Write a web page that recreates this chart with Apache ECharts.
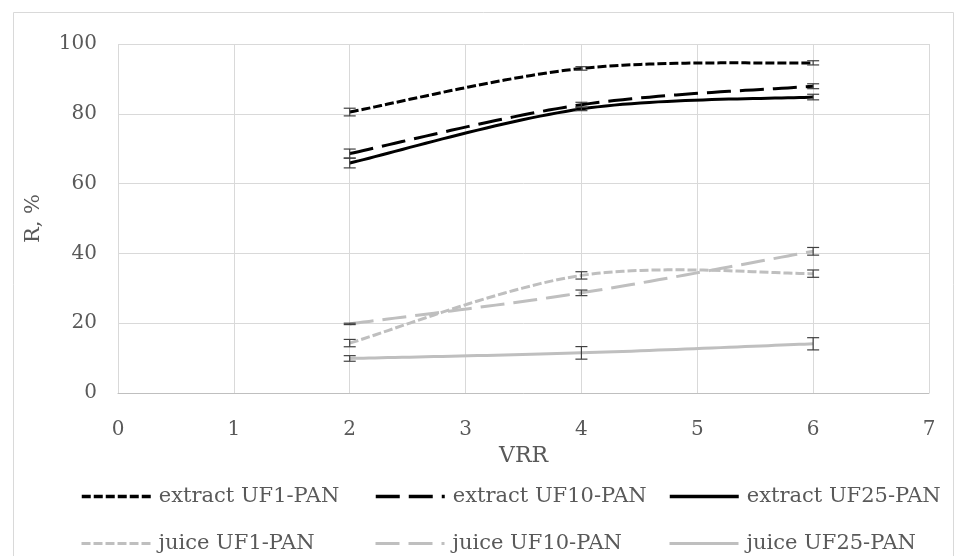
<!DOCTYPE html>
<html>
<head>
<meta charset="utf-8">
<script src="https://cdn.jsdelivr.net/npm/echarts@6/dist/echarts.min.js"></script>
<style>
html,body{margin:0;padding:0;background:#fff;}
#chart{width:959px;height:556px;}
</style>
</head>
<body>
<div id="chart"></div>
<script>
// ---- data ----
const vrr = [2, 4, 6];
const xTicks = [0, 1, 2, 3, 4, 5, 6, 7];
const yTicks = [0, 20, 40, 60, 80, 100];
const seriesNames = ['extract UF1-PAN', 'extract UF10-PAN', 'extract UF25-PAN',
                     'juice UF1-PAN', 'juice UF10-PAN', 'juice UF25-PAN'];
const extractUF1 = [80.5, 93.0, 94.6];
const extractUF10 = [68.6, 82.6, 87.9];
const extractUF25 = [65.9, 81.4, 84.8];
const juiceUF1 = [14.3, 33.7, 34.2];
const juiceUF10 = [19.8, 28.7, 40.6];
const juiceUF25 = [9.9, 11.5, 14.1];
const errExtractUF1 = [1.1, 0.5, 0.6];
const errExtractUF10 = [1.3, 0.7, 0.7];
const errExtractUF25 = [1.4, 0.5, 0.8];
const errJuiceUF1 = [1.05, 1.05, 1.05];
const errJuiceUF10 = [0.2, 0.8, 1.1];
const errJuiceUF25 = [0.8, 1.8, 1.75];

const values = [extractUF1, extractUF10, extractUF25, juiceUF1, juiceUF10, juiceUF25];
const errors = [errExtractUF1, errExtractUF10, errExtractUF25, errJuiceUF1, errJuiceUF10, errJuiceUF25];

// ---- styles ----
const FONT = 'DejaVu Serif';
const TXT = '#595959';
const colors = ['#000000', '#000000', '#000000', '#bfbfbf', '#bfbfbf', '#bfbfbf'];
const dashes = [[9, 3], [24, 9], null, [9, 3], [24, 9], null];
const legendWidths = [3.5, 3.5, 3.5, 3, 3, 3];
const legendLeft = [75, 369, 663, 75, 369, 663];
const legendTop = [481, 481, 481, 528, 528, 528];

// Excel-like smoothed curve (Catmull-Rom as cubic Bezier) in pixel space
function smoothPixels(pts) {
  const out = [pts[0]];
  const n = pts.length;
  for (let i = 0; i < n - 1; i++) {
    const p0 = pts[Math.max(i - 1, 0)], p1 = pts[i], p2 = pts[i + 1], p3 = pts[Math.min(i + 2, n - 1)];
    const c1 = [p1[0] + (p2[0] - p0[0]) / 6, p1[1] + (p2[1] - p0[1]) / 6];
    const c2 = [p2[0] - (p3[0] - p1[0]) / 6, p2[1] - (p3[1] - p1[1]) / 6];
    const steps = 30;
    for (let k = 1; k <= steps; k++) {
      const t = k / steps, u = 1 - t;
      const a = u * u * u, b = 3 * u * u * t, c = 3 * u * t * t, d = t * t * t;
      out.push([a * p1[0] + b * c1[0] + c * c2[0] + d * p2[0],
                a * p1[1] + b * c1[1] + c * c2[1] + d * p2[1]]);
    }
  }
  return out;
}

// legend-only line series (no data drawn)
const legendSeries = seriesNames.map((name, i) => ({
  name: name,
  type: 'line',
  symbol: 'none',
  lineStyle: { color: colors[i], width: 3, type: dashes[i] || 'solid' },
  itemStyle: { color: colors[i] },
  data: []
}));

// curves + error bars, drawn through the axes' coordinate system
const curveSeries = seriesNames.map((name, i) => ({
  type: 'custom',
  z: 2,
  silent: true,
  clip: false,
  data: vrr.map((x, j) => [x, values[i][j], values[i][j] - errors[i][j], values[i][j] + errors[i][j]]),
  encode: { x: 0, y: [1, 2, 3] },
  renderItem: function (params, api) {
    const children = [];
    if (params.dataIndex === 0) {
      const pix = vrr.map((x, j) => api.coord([x, values[i][j]]));
      const style = { stroke: colors[i], lineWidth: 3, fill: 'none' };
      if (dashes[i]) style.lineDash = dashes[i];
      children.push({ type: 'polyline', shape: { points: smoothPixels(pix) }, style: style, z2: 1 });
    }
    const lo = api.coord([api.value(0), api.value(2)]);
    const hi = api.coord([api.value(0), api.value(3)]);
    const w = 6;
    const st = { stroke: '#404040', lineWidth: 1.2 };
    children.push(
      { type: 'line', shape: { x1: lo[0], y1: lo[1], x2: hi[0], y2: hi[1] }, style: st, z2: 5 },
      { type: 'line', shape: { x1: lo[0] - w, y1: lo[1], x2: lo[0] + w, y2: lo[1] }, style: st, z2: 5 },
      { type: 'line', shape: { x1: hi[0] - w, y1: hi[1], x2: hi[0] + w, y2: hi[1] }, style: st, z2: 5 }
    );
    return { type: 'group', children: children };
  }
}));

const legends = seriesNames.map((name, i) => ({
  data: [name],
  left: legendLeft[i],
  top: legendTop[i],
  itemWidth: 69,
  itemHeight: 14,
  itemGap: 0,
  selectedMode: false,
  itemStyle: { opacity: 0, color: 'transparent', borderWidth: 0 },
  lineStyle: { width: legendWidths[i], type: dashes[i] || 'solid', color: colors[i], opacity: 1 },
  textStyle: { fontFamily: FONT, fontSize: 21, color: TXT, padding: [0, 0, 0, 3] }
}));

const chart = echarts.init(document.getElementById('chart'), null, { renderer: 'canvas' });
chart.setOption({
  animation: false,
  backgroundColor: '#ffffff',
  graphic: [{
    type: 'rect',
    shape: { x: 13.5, y: 12.5, width: 940, height: 600 },
    style: { fill: 'none', stroke: '#d9d9d9', lineWidth: 1 },
    silent: true
  }],
  grid: { left: 118, right: 30, top: 44, bottom: 163 },
  legend: legends,
  xAxis: {
    type: 'value',
    min: xTicks[0],
    max: xTicks[xTicks.length - 1],
    interval: 1,
    name: 'VRR',
    nameLocation: 'middle',
    nameGap: 48,
    nameTextStyle: { fontFamily: FONT, fontSize: 22, color: TXT },
    axisLine: { show: true, lineStyle: { color: '#bfbfbf', width: 1 } },
    axisTick: { show: false },
    axisLabel: { fontFamily: FONT, fontSize: 20, color: TXT, margin: 27 },
    splitLine: { show: true, lineStyle: { color: '#d9d9d9', width: 1 } }
  },
  yAxis: {
    type: 'value',
    min: yTicks[0],
    max: yTicks[yTicks.length - 1],
    interval: 20,
    name: 'R, %',
    nameLocation: 'middle',
    nameGap: 74,
    nameTextStyle: { fontFamily: FONT, fontSize: 21, color: TXT },
    axisLine: { show: false },
    axisTick: { show: false },
    axisLabel: { fontFamily: FONT, fontSize: 20, color: TXT, margin: 21 },
    splitLine: { show: true, lineStyle: { color: '#d9d9d9', width: 1 } }
  },
  series: legendSeries.concat(curveSeries)
});
</script>
</body>
</html>
